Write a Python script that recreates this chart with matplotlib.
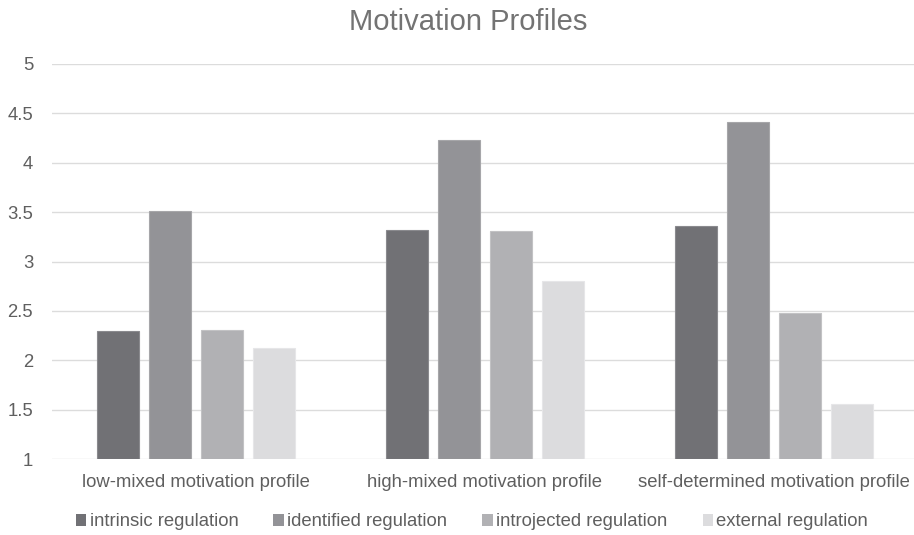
import numpy as np
import matplotlib
matplotlib.use("Agg")
import matplotlib.pyplot as plt
from matplotlib.patches import Patch

plt.rcParams['font.family'] = ['Liberation Sans', 'DejaVu Sans']

categories = ["low-mixed motivation profile",
              "high-mixed motivation profile",
              "self-determined motivation profile"]
series_names = ["intrinsic regulation", "identified regulation",
                "introjected regulation", "external regulation"]
intrinsic = [2.30, 3.32, 3.36]
identified = [3.51, 4.23, 4.41]
introjected = [2.31, 3.31, 2.48]
external = [2.12, 2.80, 1.56]
yticks = [1, 1.5, 2, 2.5, 3, 3.5, 4, 4.5, 5]
ytick_labels = ["1", "1.5", "2", "2.5", "3", "3.5", "4", "4.5", "5"]

colors = ["#717175", "#939397", "#b1b1b4", "#dcdcde"]
edges = ["#8a8a8e", "#a6a6a9", "#c2c2c4", "#e6e6e8"]
text_color = "#5f5f5f"
fs = 13.3

W, H = 914, 535
fig = plt.figure(figsize=(W / 100, H / 100), dpi=100)
ax = fig.add_axes([52 / W, (H - 459) / H, 866 / W, 395 / H])

values = [intrinsic, identified, introjected, external]
x = np.arange(len(categories))
step = 0.18
width = 0.145
for i, vals in enumerate(values):
    off = (i - 1.5) * step
    ax.bar(x + off, np.array(vals) - 1, width=width, bottom=1,
           color=colors[i], edgecolor=edges[i], linewidth=0.8, zorder=3)

ax.set_xlim(-0.5, 2.5)
ax.set_ylim(1, 5)
ax.set_yticks(yticks)
ax.set_yticklabels(ytick_labels)
ax.set_xticks(x)
ax.set_xticklabels(categories)
ax.grid(axis='y', color="#dcdcdc", linewidth=1.0, zorder=0)
for s in ax.spines.values():
    s.set_visible(False)
ax.tick_params(axis='both', length=0, colors=text_color, labelsize=fs)
ax.tick_params(axis='y', pad=13.5)
ax.tick_params(axis='x', pad=11)

fig.text(468 / W, 1 - 22 / H, "Motivation Profiles", ha='center', va='center',
         fontsize=21, color="#737373")

handles = [Patch(facecolor=c, edgecolor='none') for c in colors]
fig.legend(handles, series_names, loc='center', ncol=4,
           bbox_to_anchor=(472 / W, 1 - 522 / H), frameon=False,
           handlelength=0.55, handleheight=0.6, handletextpad=0.2,
           columnspacing=1.9, fontsize=fs, labelcolor=text_color)

fig.savefig("out.png", dpi=100)
